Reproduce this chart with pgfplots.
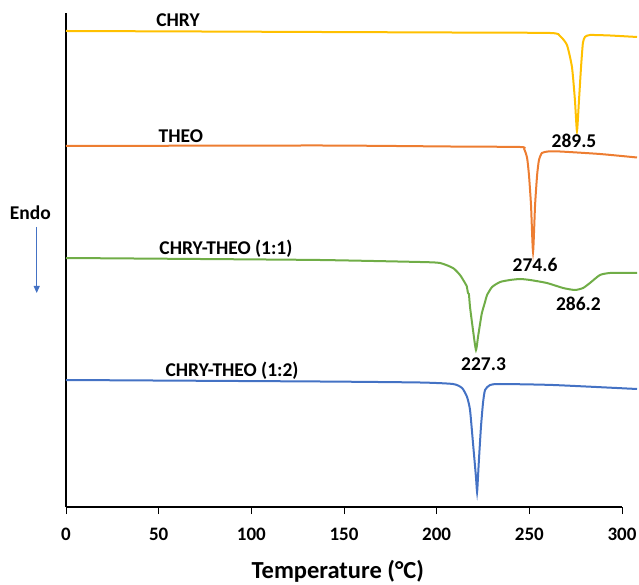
\documentclass[border=0pt]{standalone}
\usepackage{fontspec}
\setmainfont{Carlito}
\usepackage{pgfplots}
\pgfplotsset{compat=1.18}
\usetikzlibrary{arrows.meta}

\definecolor{cchry}{HTML}{FFC000}
\definecolor{ctheo}{HTML}{ED7D31}
\definecolor{cmixa}{HTML}{70AD47}
\definecolor{cmixb}{HTML}{4472C4}

\newcommand{\lbl}{\fontsize{19.5bp}{22bp}\selectfont\bfseries}

\begin{document}
\begin{tikzpicture}
\begin{axis}[
  name=ax,
  width=556bp, height=494bp, scale only axis,
  xmin=0, xmax=300, ymin=0, ymax=494,
  axis x line=bottom, axis y line=left,
  axis line style={-, line width=2.5bp, black},
  xtick={0,50,...,300}, ytick=\empty,
  tick align=outside, major tick length=7bp,
  xtick style={black, line width=0.8bp},
  /pgf/number format/assume math mode=true,
  xticklabel style={font=\fontsize{19bp}{20bp}\selectfont\bfseries, anchor=base, yshift=-26bp},
  xlabel={Temperature (°C)},
  x label style={at={(axis description cs:0.489,0)}, anchor=base, yshift=-71bp,
    font=\fontsize{24.5bp}{28bp}\selectfont\bfseries},
  clip=false,
  every axis plot/.append style={line width=2bp, smooth, tension=0.35},
]
% CHRY
\addplot[cchry] coordinates {
  (0,476) (72.3,475.5) (137.0,475) (207.2,474.5) (261.2,474) (266.5,471)
  (270.3,462) (273.0,440) (274.6,407) (275.7,376) (276.8,407) (277.9,440)
  (278.9,464) (280.0,470) (282.7,472) (293.5,471.5) (308.1,470)};
% THEO
\addplot[ctheo] coordinates {
  (0,361) (137.0,361.5) (207.2,360.5) (245.0,360) (247.2,358) (248.8,349)
  (249.8,332) (250.9,302) (252.0,255) (253.1,302) (254.2,332) (255.2,347)
  (256.8,354) (260.1,355.5) (266.5,355.5) (288.1,353) (308.1,349.5)};
% CHRY-THEO (1:1)
\addplot[cmixa] coordinates {
  (0,249) (72.3,248) (137.0,247) (191.0,245) (201.8,244) (208.8,239)
  (212.6,232) (215.3,224) (216.2,221) (216.9,214) (217.4,213) (218.0,200)
  (219.6,177) (221.2,157)
  (222.3,170) (223.4,183) (224.4,194) (226.1,205) (227.2,212) (229.9,220)
  (234.2,225) (239.6,227) (245.0,228) (250.4,227) (259.5,224) (268.2,219)
  (274.6,217) (279.0,219) (282.7,224) (288.1,232) (293.5,234) (302.7,234)
  (308.1,234)};
% CHRY-THEO (1:2)
\addplot[cmixb] coordinates {
  (0,127) (137.0,125.5) (191.0,124.5) (208.8,123) (213.7,119) (216.4,110)
  (218.0,97) (219.6,64) (221.2,30) (221.8,15) (222.3,30) (222.8,47)
  (223.9,80) (225.0,104) (226.1,117) (228.8,122) (234.2,123) (262.8,122)
  (308.1,118)};

\node[anchor=base, font=\lbl] at (axis cs:60.4,480.5) {CHRY};
\node[anchor=base, font=\lbl] at (axis cs:62.0,364.5) {THEO};
\node[anchor=base, font=\lbl] at (axis cs:86.3,252) {CHRY-THEO (1:1)};
\node[anchor=base, font=\lbl] at (axis cs:89.6,130) {CHRY-THEO (1:2)};
\node[anchor=base, font=\lbl] at (axis cs:274.1,359) {289.5};
\node[anchor=base, font=\lbl] at (axis cs:253.1,235) {274.6};
\node[anchor=base, font=\lbl] at (axis cs:276.5,196) {286.2};
\node[anchor=base, font=\lbl] at (axis cs:225.3,136) {227.3};
\node[anchor=base, font=\lbl] at (axis cs:-19.2,287) {Endo};
\draw[cmixb, line width=1bp, -{Triangle[length=7bp,width=6bp]}]
  (axis cs:-15.8,280) -- (axis cs:-15.8,214);
\end{axis}
\pgfresetboundingbox
\path[use as bounding box] ([shift={(-66bp,-78bp)}]ax.south west)
  rectangle ([shift={(17bp,13bp)}]ax.north east);
\end{tikzpicture}
\end{document}
